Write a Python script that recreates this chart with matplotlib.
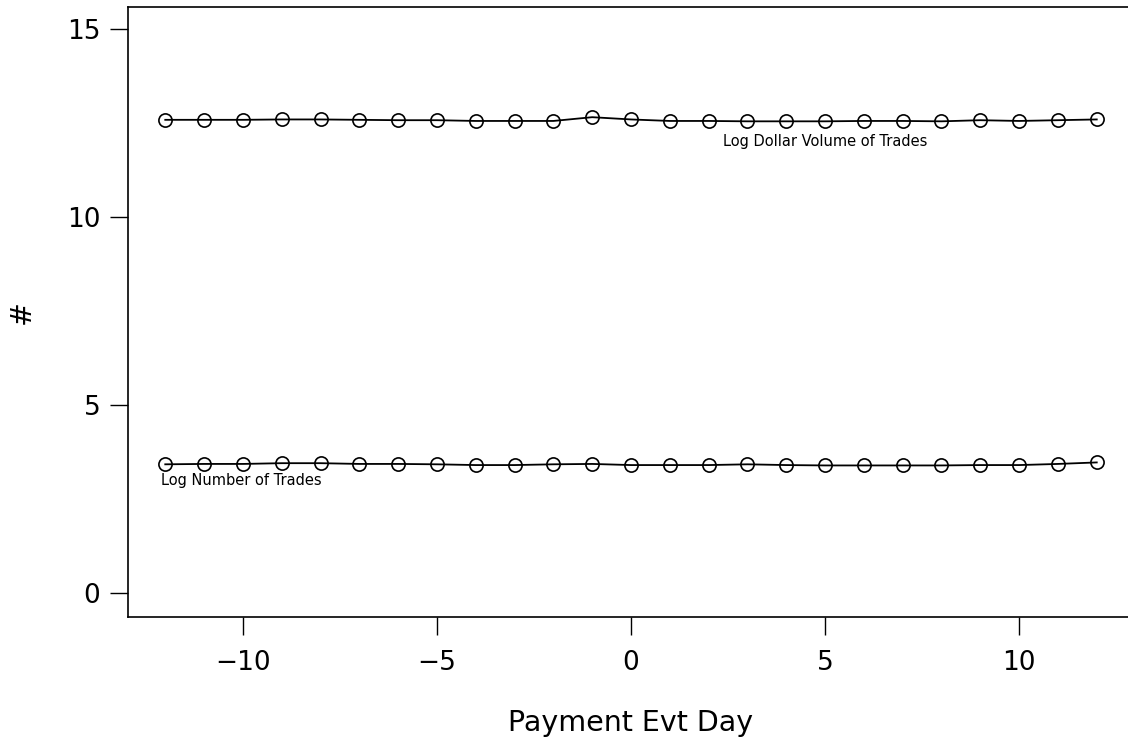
import matplotlib
matplotlib.use("Agg")
import matplotlib.pyplot as plt

days = list(range(-12, 13))
log_dollar_volume = [12.58, 12.58, 12.58, 12.59, 12.59, 12.58, 12.57, 12.57, 12.55, 12.55, 12.55,
                     12.65, 12.59, 12.55, 12.55, 12.54, 12.54, 12.54, 12.55, 12.55, 12.54, 12.57,
                     12.55, 12.57, 12.59]
log_num_trades = [3.42, 3.43, 3.43, 3.45, 3.45, 3.43, 3.43, 3.42, 3.40, 3.40, 3.42,
                  3.43, 3.40, 3.40, 3.40, 3.42, 3.40, 3.39, 3.39, 3.39, 3.39, 3.40,
                  3.40, 3.43, 3.47]
x_ticks = [-10, -5, 0, 5, 10]
y_ticks = [0, 5, 10, 15]

plt.rcParams['font.family'] = ['DejaVu Sans']
fig = plt.figure(figsize=(11.28, 7.42), dpi=100)
ax = fig.add_axes([128/1128, 1 - 617/742, (1134 - 128)/1128, (617 - 7)/742])

for series in (log_dollar_volume, log_num_trades):
    ax.plot(days, series, color='black', linewidth=1.3, marker='o', markersize=9.5,
            markerfacecolor='none', markeredgecolor='black', markeredgewidth=1.2)

ax.text(5.0, 12.0, "Log Dollar Volume of Trades", fontsize=10.5, ha='center', va='center')
ax.text(-12.1, 2.98, "Log Number of Trades", fontsize=10.5, ha='left', va='center')

ax.set_xlim(-12.96, 12.96)
ax.set_ylim(-0.64, 15.58)
ax.set_xticks(x_ticks)
ax.set_yticks(y_ticks)
ax.tick_params(axis='both', direction='out', length=13, width=1.0, labelsize=19)
ax.tick_params(axis='x', pad=11)
ax.tick_params(axis='y', pad=7)
for sp in ax.spines.values():
    sp.set_linewidth(1.2)

fig.text(631/1128, 1 - 723/742, "Payment Evt Day", fontsize=20.5, ha='center', va='center')
fig.text(22/1128, 1 - 312/742, "#", fontsize=20.5, ha='center', va='center', rotation=90)

fig.savefig("out.png", dpi=100)
